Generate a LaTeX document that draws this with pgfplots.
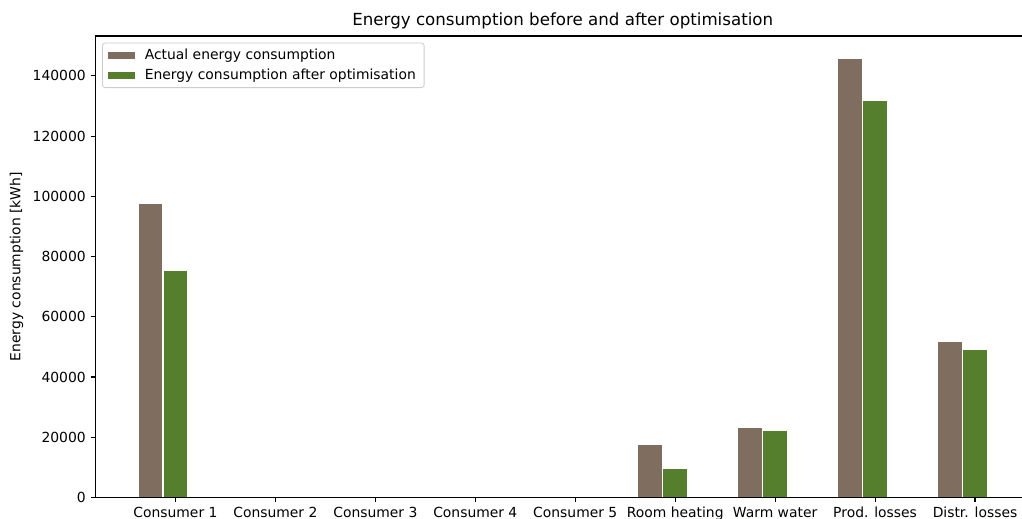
\documentclass[border=0pt]{standalone}
\usepackage{fontspec}
\setmainfont{DejaVu Sans}
\usepackage{pgfplots}
\pgfplotsset{compat=1.18}
\definecolor{brownc}{HTML}{7F6D5F}
\definecolor{greenc}{HTML}{557F2D}
\definecolor{legframe}{HTML}{CCCCCC}
\begin{document}
\begin{tikzpicture}
\begin{axis}[
  at={(0pt,0pt)}, anchor=south west,
  scale only axis, width=672.84pt, height=332.28pt,
  xmin=-0.8, xmax=8.55, ymin=0, ymax=153240,
  axis on top,
  axis line style={line width=0.8pt, black},
  tick style={line width=0.8pt, black},
  major tick length=3.5pt,
  tick align=outside,
  xtick pos=bottom, ytick pos=left,
  xtick={0,1,2,3,4,5,6,7,8},
  xticklabels={Consumer 1, Consumer 2, Consumer 3, Consumer 4, Consumer 5, Room heating, Warm water, Prod. losses, Distr. losses},
  ytick={0,20000,40000,60000,80000,100000,120000,140000},
  scaled y ticks=false,
  yticklabel style={/pgf/number format/.cd, fixed, 1000 sep={}, assume math mode=true},
  ticklabel style={font=\fontsize{10}{12}\selectfont},
  ylabel={Energy consumption [kWh]},
  ylabel style={font=\fontsize{10}{12}\selectfont},
  title={Energy consumption before and after optimisation},
  title style={font=\fontsize{12}{14}\selectfont, yshift=-4.5pt},
  legend style={at={(0,1)}, anchor=north west, xshift=4.7pt, yshift=-4.7pt,
    draw=legframe, line width=0.6pt, rounded corners=2pt, fill=white, fill opacity=0.8, text opacity=1,
    inner xsep=4pt, inner ysep=2.5pt, row sep=1pt,
    font=\fontsize{10}{12}\selectfont},
  legend cell align=left,
]
\addplot[ybar, bar width=0.25, bar shift=-0.25, fill=brownc, draw=white, line width=1pt,
  legend image code/.code={\fill[brownc, fill opacity=1, sharp corners, draw=none] (0pt,-2.5pt) rectangle (19.5pt,2.5pt); \path (24pt,0pt);}]
  coordinates {(0,97750) (1,0) (2,0) (3,0) (4,0) (5,17800) (6,23450) (7,145850) (8,51750)};
\addlegendentry{Actual energy consumption}
\addplot[ybar, bar width=0.25, bar shift=0, fill=greenc, draw=white, line width=1pt,
  legend image code/.code={\fill[greenc, fill opacity=1, sharp corners, draw=none] (0pt,-2.5pt) rectangle (19.5pt,2.5pt); \path (24pt,0pt);}]
  coordinates {(0,75400) (1,0) (2,0) (3,0) (4,0) (5,9850) (6,22450) (7,131900) (8,49100)};
\addlegendentry{Energy consumption after optimisation}
\end{axis}
\pgfresetboundingbox
\path[use as bounding box] (-68.76pt,-15.48pt) rectangle (667.08pt,358.2pt);
\end{tikzpicture}
\end{document}
